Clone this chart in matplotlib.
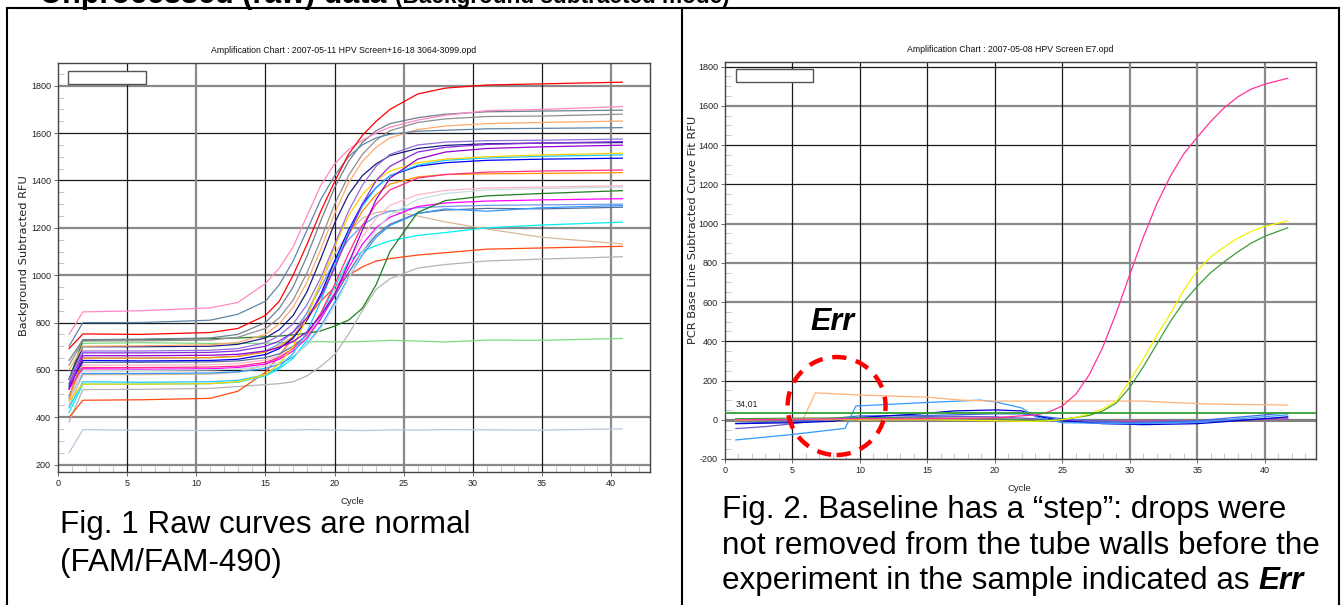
import matplotlib
matplotlib.use("Agg")
import matplotlib.pyplot as plt
from matplotlib.lines import Line2D
from matplotlib.patches import Rectangle, Ellipse
from matplotlib.ticker import MultipleLocator

plt.rcParams["font.family"] = ["Liberation Sans", "DejaVu Sans"]
plt.rcParams["axes.unicode_minus"] = False

# ---- Fig. 1 : raw amplification curves ----
raw_cycles = [0.8, 1.8, 6, 11, 13, 15, 16, 17, 18, 19, 20, 21, 22, 23, 24, 26, 28, 31, 35, 40.8]

raw_red = [690, 752, 750, 758, 775, 830, 890, 1000, 1130, 1270, 1395, 1510, 1590, 1650, 1700, 1765, 1790, 1803, 1808, 1815]
raw_pink = [750, 845, 850, 862, 885, 965, 1030, 1120, 1250, 1380, 1470, 1530, 1570, 1600, 1625, 1655, 1675, 1695, 1700, 1712]
raw_steel = [700, 800, 800, 810, 835, 890, 960, 1060, 1190, 1320, 1420, 1500, 1550, 1580, 1595, 1608, 1612, 1618, 1620, 1623]
raw_slate = [640, 728, 730, 735, 750, 800, 860, 950, 1080, 1230, 1370, 1480, 1560, 1610, 1640, 1665, 1680, 1690, 1693, 1697]
raw_gray = [620, 722, 723, 726, 738, 775, 820, 895, 1010, 1150, 1300, 1420, 1510, 1570, 1610, 1645, 1660, 1670, 1672, 1680]
raw_peach = [600, 700, 702, 706, 716, 750, 795, 865, 970, 1110, 1260, 1390, 1480, 1540, 1580, 1615, 1630, 1640, 1645, 1651]
raw_mpurple = [560, 680, 680, 683, 690, 715, 745, 795, 875, 990, 1130, 1270, 1380, 1460, 1510, 1550, 1562, 1568, 1570, 1575]
raw_bviolet = [540, 672, 672, 674, 680, 700, 722, 760, 820, 910, 1030, 1170, 1300, 1400, 1460, 1520, 1540, 1552, 1558, 1564]
raw_dviolet = [520, 660, 660, 662, 666, 680, 695, 720, 760, 830, 920, 1050, 1190, 1320, 1410, 1490, 1520, 1535, 1542, 1549]
raw_navy = [560, 698, 698, 700, 708, 735, 770, 830, 930, 1070, 1220, 1340, 1420, 1470, 1505, 1535, 1548, 1555, 1558, 1560]
raw_gold = [470, 540, 540, 542, 550, 580, 625, 700, 820, 970, 1120, 1250, 1340, 1400, 1440, 1475, 1490, 1500, 1508, 1515]
raw_aqua = [440, 550, 548, 550, 556, 580, 612, 670, 760, 890, 1040, 1180, 1290, 1370, 1420, 1465, 1485, 1495, 1502, 1508]
raw_blue = [530, 640, 638, 640, 645, 665, 690, 735, 810, 920, 1060, 1190, 1300, 1370, 1420, 1460, 1475, 1485, 1490, 1494]
raw_deeppink = [520, 610, 610, 612, 616, 632, 652, 690, 750, 840, 960, 1090, 1210, 1300, 1360, 1410, 1425, 1435, 1440, 1444]
raw_orange = [480, 650, 650, 652, 657, 675, 700, 740, 810, 910, 1040, 1170, 1270, 1340, 1385, 1415, 1425, 1428, 1430, 1433]
raw_lpink = [470, 620, 620, 622, 627, 642, 660, 692, 745, 825, 930, 1050, 1160, 1240, 1295, 1340, 1358, 1368, 1372, 1378]
raw_lgraycyan = [460, 598, 598, 600, 604, 616, 632, 660, 705, 775, 870, 985, 1100, 1190, 1255, 1320, 1345, 1360, 1366, 1372]
raw_dgreen = [560, 725, 728, 732, 735, 740, 743, 748, 755, 765, 785, 810, 860, 960, 1100, 1265, 1315, 1335, 1345, 1357]
raw_magenta = [520, 605, 603, 605, 610, 625, 645, 680, 735, 815, 920, 1030, 1130, 1200, 1245, 1290, 1305, 1313, 1318, 1323]
raw_dodger = [480, 585, 585, 587, 592, 606, 624, 656, 708, 785, 885, 990, 1085, 1160, 1210, 1260, 1280, 1270, 1285, 1294]
raw_slateblue = [490, 632, 632, 634, 638, 652, 668, 700, 748, 818, 910, 1010, 1100, 1170, 1215, 1262, 1275, 1282, 1280, 1287]
raw_cornflower = [520, 650, 650, 652, 658, 680, 710, 760, 840, 950, 1060, 1150, 1210, 1250, 1270, 1285, 1290, 1295, 1297, 1300]
raw_cyan = [420, 540, 540, 542, 548, 575, 605, 650, 725, 830, 950, 1060, 1100, 1125, 1145, 1168, 1180, 1200, 1212, 1224]
raw_tan = [450, 580, 580, 582, 590, 620, 660, 730, 840, 970, 1090, 1180, 1240, 1265, 1272, 1250, 1225, 1195, 1160, 1132]
raw_orangered = [400, 472, 474, 480, 510, 590, 660, 740, 820, 890, 950, 1000, 1035, 1060, 1070, 1085, 1095, 1110, 1115, 1122]
raw_silver = [380, 517, 518, 522, 530, 538, 542, 550, 575, 615, 665, 750, 850, 940, 985, 1030, 1045, 1060, 1068, 1078]
raw_lgreen = [545, 712, 715, 712, 712, 712, 715, 717, 718, 720, 718, 719, 720, 722, 725, 722, 718, 726, 725, 733]
raw_lsteel = [250, 348, 345, 344, 346, 345, 347, 346, 348, 347, 346, 345, 344, 345, 347, 346, 348, 347, 346, 351]

# ---- Fig. 2 : baseline-subtracted curves ----
amp_cycles = [0.8, 5, 10, 15, 20, 22, 23, 24, 25, 26, 27, 28, 29, 30, 31, 32, 33, 34, 35, 36, 37, 38, 39, 40, 41.7]
fit_pink = [0, 2, 5, 5, 10, 20, 24, 40, 70, 130, 230, 370, 545, 740, 930, 1100, 1240, 1355, 1440, 1520, 1590, 1645, 1685, 1710, 1740]
fit_yellow = [0, 2, 0, 0, -5, -8, -8, -5, 0, 12, 30, 55, 95, 200, 310, 430, 540, 660, 760, 830, 880, 925, 960, 985, 1013]
fit_green = [5, 8, 10, 8, 5, 0, -3, -2, 2, 12, 22, 45, 85, 165, 270, 385, 500, 600, 680, 750, 805, 855, 900, 935, 978]

err_cycles = [0.8, 3, 5.8, 6.7, 10, 15, 17.5, 20, 25, 31, 33, 36, 41.7]
fit_err = [0, 2, 5, 137, 126, 115, 100, 95, 95, 95, 88, 80, 75]

step_cycles = [0.8, 5, 8.9, 9.7, 12, 15, 18.9, 20, 22, 23, 25, 30, 35, 41.7]
fit_step = [-103, -75, -44, 70, 78, 88, 100, 92, 60, 15, -15, -20, -12, 25]

dblue_cycles = [0.8, 5, 8, 10, 14, 17, 20, 22, 23, 25, 28, 31, 35, 38, 41.7]
fit_dblue = [-20, -15, -8, 12, 28, 45, 50, 45, 20, -5, -20, -25, -20, -5, 15]

slate_cycles = [0.8, 3, 5, 7, 9, 12, 16, 20, 23, 26, 30, 35, 41.7]
fit_slate = [-45, -35, -20, -5, 10, 12, 18, 15, 5, -10, -18, -12, 10]

royal_cycles = [0.8, 4, 7, 10, 15, 20, 22, 25, 30, 35, 41.7]
fit_royal = [-18, -12, 0, 20, 22, 30, 30, 5, -15, -5, 35]

mag_cycles = [0.8, 5, 10, 15, 20, 25, 30, 35, 41.7]
fit_magenta = [2, 0, 5, 10, 5, -5, -8, -5, 5]

threshold = 34.01
threshold_label = "34,01"

left_title = "Amplification Chart : 2007-05-11 HPV Screen+16-18 3064-3099.opd"
right_title = "Amplification Chart : 2007-05-08 HPV Screen E7.opd"

W, H = 1344, 605


def fx(px):
    return px / W


def fy(py):
    return 1 - py / H


def style_axes(ax, xmax, ylim, yticks, title, ylabel, gray_h, gray_v, ylabel_xy):
    ax.set_xlim(0, xmax)
    ax.set_ylim(*ylim)
    ax.set_xticks(range(0, 45, 5))
    ax.set_yticks(yticks)
    ax.xaxis.set_minor_locator(MultipleLocator(1))
    ax.yaxis.set_minor_locator(MultipleLocator(50))
    ax.tick_params(which="major", direction="out", length=3, width=0.6,
                   color="#555555", labelsize=6.5, labelcolor="#222222", pad=2)
    ax.tick_params(which="minor", direction="in", length=4, width=0.6, color="#bbbbbb")
    for v in yticks:
        gray = v in gray_h
        ax.axhline(v, color="#8a8a8a" if gray else "#1a1a1a", lw=1.6 if gray else 0.9, zorder=1)
    for v in range(5, 45, 5):
        gray = v in gray_v
        ax.axvline(v, color="#8a8a8a" if gray else "#1a1a1a", lw=1.6 if gray else 0.9, zorder=1)
    for s in ax.spines.values():
        s.set_color("#444444")
        s.set_linewidth(1.0)
    ax.set_title(title, fontsize=6.3, pad=7, x=0.483, color="#111111")
    ax.set_xlabel("Cycle", fontsize=6.8, color="#222222")
    ax.xaxis.set_label_coords(0.498, -0.062)
    ax.set_ylabel(ylabel, fontsize=8.2, color="#222222", family="DejaVu Sans")
    ax.yaxis.set_label_coords(*ylabel_xy)


fig = plt.figure(figsize=(W / 100, H / 100), dpi=100)

# ---------------- left chart ----------------
ax1 = fig.add_axes([fx(58), fy(472), fx(650) - fx(58), fy(63) - fy(472)])
style_axes(ax1, 42.8, (169, 1896), list(range(200, 1801, 200)), left_title,
           "Background Subtracted RFU", [200, 400, 1000, 1200, 1800], [10, 25, 40],
           (-0.049, 0.53))

raw_series = [
    (raw_lsteel, "#b8c8dc"), (raw_lgreen, "#7fdc7f"), (raw_silver, "#b4b4b4"),
    (raw_orangered, "#ff4a12"), (raw_tan, "#d8b898"), (raw_cyan, "#00f0f0"),
    (raw_cornflower, "#6f9ae8"), (raw_slateblue, "#5a6e9a"), (raw_dodger, "#3399ff"),
    (raw_magenta, "#ff00ff"), (raw_dgreen, "#1f7f1f"), (raw_lgraycyan, "#c4dede"),
    (raw_lpink, "#ffb6c8"), (raw_orange, "#ff9000"), (raw_deeppink, "#ff2d86"),
    (raw_blue, "#0000ee"), (raw_aqua, "#19c8ff"), (raw_gold, "#ffd000"),
    (raw_navy, "#1c1c80"), (raw_dviolet, "#9400d3"), (raw_bviolet, "#8a2be2"),
    (raw_mpurple, "#9370db"), (raw_peach, "#ffaa6a"), (raw_gray, "#8f8f8f"),
    (raw_slate, "#708090"), (raw_steel, "#5f86a8"), (raw_pink, "#ff88c4"),
    (raw_red, "#ff0000"),
]
for vals, col in raw_series:
    ax1.plot(raw_cycles, vals, color=col, lw=0.9, zorder=2)

ax1.add_patch(Rectangle((0.017, 0.949), 0.132, 0.031, transform=ax1.transAxes,
                        facecolor="white", edgecolor="#555555", lw=1.0, zorder=5))

# ---------------- right chart ----------------
ax2 = fig.add_axes([fx(725), fy(459), fx(1316) - fx(725), fy(62) - fy(459)])
style_axes(ax2, 43.8, (-200, 1823), list(range(-200, 1801, 200)), right_title,
           "PCR Base Line Subtracted Curve Fit RFU", [0, 600, 800, 1000, 1600],
           [30, 35, 40], (-0.046, 0.577))
ax2.axhline(0, color="#808080", lw=2.2, zorder=1)
ax2.axhline(threshold, color="#33a033", lw=1.3, zorder=3)
ax2.text(0.8, threshold + 20, threshold_label, fontsize=6.5, color="#222222", va="bottom")

ax2.plot(mag_cycles, fit_magenta, color="#cc33cc", lw=0.9, zorder=2)
ax2.plot(slate_cycles, fit_slate, color="#6a5acd", lw=0.9, zorder=2)
ax2.plot(royal_cycles, fit_royal, color="#4169e1", lw=0.9, zorder=2)
ax2.plot(dblue_cycles, fit_dblue, color="#0000cc", lw=0.9, zorder=2)
ax2.plot(step_cycles, fit_step, color="#3399ff", lw=0.9, zorder=2)
ax2.plot(err_cycles, fit_err, color="#ffb37a", lw=0.9, zorder=2)
ax2.plot(amp_cycles, fit_green, color="#3c9c3c", lw=0.9, zorder=2)
ax2.plot(amp_cycles, fit_yellow, color="#f2f200", lw=0.9, zorder=2)
ax2.plot(amp_cycles, fit_pink, color="#ff3399", lw=0.9, zorder=2)

ax2.add_patch(Rectangle((0.0186, 0.9496), 0.1304, 0.0324, transform=ax2.transAxes,
                        facecolor="white", edgecolor="#555555", lw=1.0, zorder=5))

# Err marker: dashed red circle and label
ax2.add_patch(Ellipse((8.27, 70), 7.26, 499, fill=False, edgecolor="#ff0000",
                      lw=3.2, linestyle=(0, (3.2, 2.2)), zorder=6, clip_on=False))
fig.text(fx(810), fy(330), "Err", fontsize=22, fontweight="bold", fontstyle="italic",
         va="baseline", ha="left")

# ---------------- frame lines and text ----------------
frame = [
    ((7, 8), (7, 605)), ((7, 8), (1339, 8)), ((682, 8), (682, 605)), ((1339, 8), (1339, 605)),
]
for (x0, y0), (x1, y1) in frame:
    fig.add_artist(Line2D([fx(x0), fx(x1)], [fy(y0), fy(y1)], color="black", lw=1.5,
                          transform=fig.transFigure))

head = fig.text(fx(40), fy(3), "Unprocessed (raw) data ",
                fontsize=22, fontweight="bold", va="baseline", ha="left")

cap_size = 22.6
fig.text(fx(60), fy(533), "Fig. 1 Raw curves are normal", fontsize=cap_size, va="baseline")
fig.text(fx(60), fy(571), "(FAM/FAM-490)", fontsize=cap_size, va="baseline")

fig.text(fx(722), fy(518), "Fig. 2. Baseline has a \u201cstep\u201d: drops were",
         fontsize=cap_size, va="baseline")
fig.text(fx(722), fy(554), "not removed from the tube walls before the",
         fontsize=cap_size, va="baseline")
last = fig.text(fx(722), fy(589), "experiment in the sample indicated as ",
                fontsize=cap_size, va="baseline")
fig.canvas.draw()
bb = last.get_window_extent()
fig.text(bb.x1 / W, fy(589), "Err", fontsize=cap_size, fontweight="bold",
         fontstyle="italic", va="baseline")
hb = head.get_window_extent()
fig.text(hb.x1 / W, fy(3), "(Background subtracted mode)", fontsize=16.3,
         fontweight="bold", va="baseline", ha="left")

fig.savefig("out.png", dpi=100)
